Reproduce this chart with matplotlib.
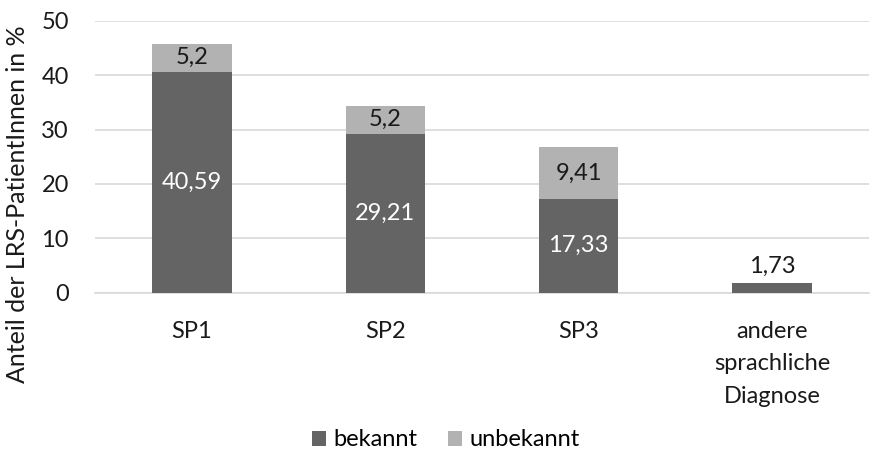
import matplotlib
matplotlib.use("Agg")
import matplotlib.pyplot as plt

plt.rcParams['font.family'] = ['Lato', 'DejaVu Sans']

categories = ["SP1", "SP2", "SP3", "andere\nsprachliche\nDiagnose"]
bekannt = [40.59, 29.21, 17.33, 1.73]
unbekannt = [5.2, 5.2, 9.41, 0.0]
bekannt_labels = ["40,59", "29,21", "17,33", "1,73"]
unbekannt_labels = ["5,2", "5,2", "9,41", ""]
yticks = [0, 10, 20, 30, 40, 50]

dark = "#646464"
light = "#B2B2B2"
txt = "#1a1a1a"
fs = 17

W, H = 874, 459
fig = plt.figure(figsize=(W / 100, H / 100), dpi=100)
ax = fig.add_axes([0.109, 0.362, 0.885, 0.593])

x = range(len(categories))
w = 0.41
b1 = ax.bar(x, bekannt, w, color=dark, label="bekannt", zorder=3)
b2 = ax.bar(x, unbekannt, w, bottom=bekannt, color=light, label="unbekannt", zorder=3)

for i, (v, lab) in enumerate(zip(bekannt, bekannt_labels)):
    if v > 5:
        ax.text(i, v / 2, lab, ha="center", va="center", color="white", fontsize=fs)
    else:
        ax.text(i, v + 1.2, lab, ha="center", va="bottom", color=txt, fontsize=fs)
for i, (b, u, lab) in enumerate(zip(bekannt, unbekannt, unbekannt_labels)):
    if u > 0:
        ax.text(i, b + u / 2, lab, ha="center", va="center", color=txt, fontsize=fs)

ax.set_ylim(0, 50)
ax.set_xlim(-0.5, len(categories) - 0.5)
ax.set_yticks(yticks)
ax.set_yticklabels([str(t) for t in yticks], fontsize=fs, color=txt)
ax.set_xticks(list(x))
ax.set_xticklabels(categories, fontsize=fs, color=txt, linespacing=1.68)
ax.tick_params(axis="y", length=0, pad=19)
ax.tick_params(axis="x", length=0, pad=20)
ax.grid(axis="y", color="#D9D9D9", linewidth=1.2, zorder=0)
for s in ["top", "right", "left"]:
    ax.spines[s].set_visible(False)
ax.spines["bottom"].set_color("#D9D9D9")
ax.spines["bottom"].set_linewidth(1.2)

fig.text(18 / W, 1 - 204 / H, "Anteil der LRS-PatientInnen in %", rotation=90,
         ha="center", va="center", fontsize=18, color=txt)

fig.legend(handles=[b1, b2], labels=["bekannt", "unbekannt"], loc="center",
           bbox_to_anchor=(446 / W, 1 - 440 / H), ncol=2, frameon=False, fontsize=fs,
           handlelength=0.6, handleheight=0.6, handletextpad=0.3, columnspacing=1.3)

fig.savefig("out.png", dpi=100)
